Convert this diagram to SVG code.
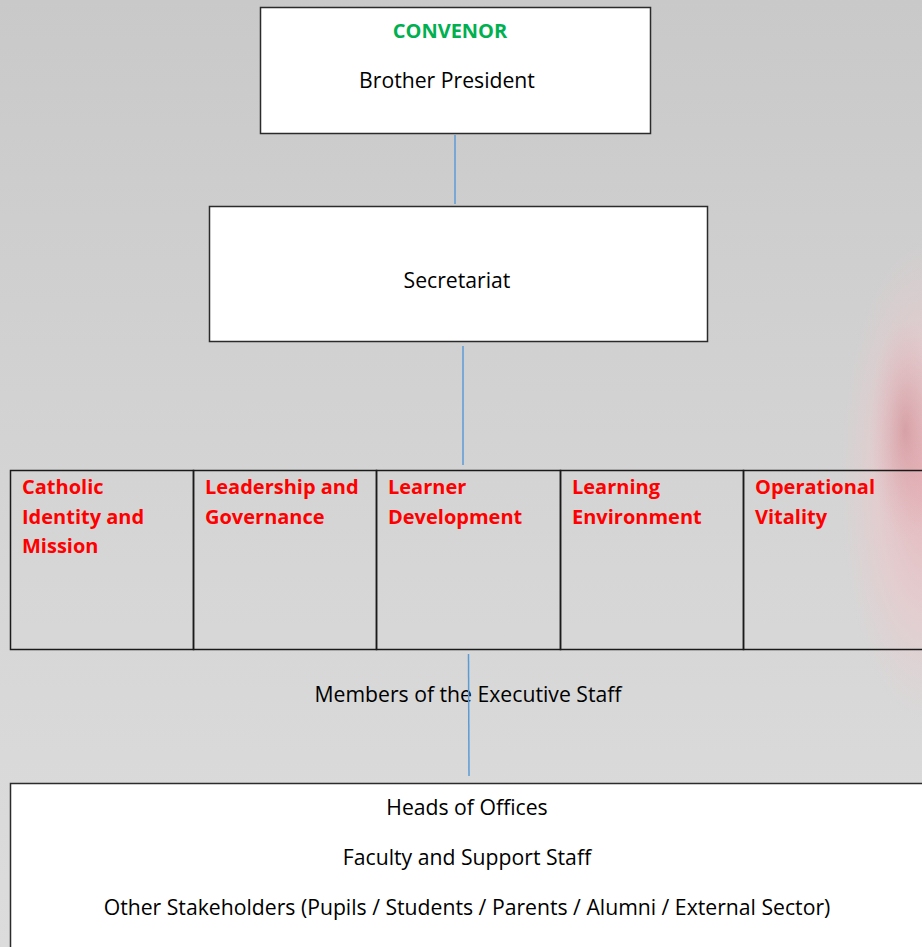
<svg xmlns="http://www.w3.org/2000/svg" width="922" height="947" viewBox="0 0 922 947">
<defs>
<linearGradient id="bg" x1="0" y1="0" x2="0" y2="1">
<stop offset="0" stop-color="#c9c9c9"/>
<stop offset="0.6" stop-color="#d6d6d6"/>
<stop offset="1" stop-color="#dcdcdc"/>
</linearGradient>
<radialGradient id="pink" cx="0.5" cy="0.5" r="0.5">
<stop offset="0" stop-color="#eaa8b0" stop-opacity="0.75"/>
<stop offset="0.55" stop-color="#f0c4c8" stop-opacity="0.5"/>
<stop offset="1" stop-color="#f0c8cc" stop-opacity="0"/>
</radialGradient>
<radialGradient id="pink2" cx="0.5" cy="0.5" r="0.5">
<stop offset="0" stop-color="#c87880" stop-opacity="0.45"/>
<stop offset="1" stop-color="#e0a0a8" stop-opacity="0"/>
</radialGradient>
<style>
.box{fill:#ffffff;stroke:#2b2b2b;stroke-width:1.5}
.cell{fill:none;stroke:#1a1a1a;stroke-width:1.5}
.conn{stroke:#5b9bd5;stroke-width:1.5;fill:none}
.t{font-family:"Open Sans","Liberation Sans",sans-serif;font-size:21.2px;fill:#000000}
.c{text-anchor:middle}
.red{font-family:"Open Sans","Liberation Sans",sans-serif;font-size:20px;font-weight:bold;fill:#ff0000}
.green{font-family:"Open Sans","Liberation Sans",sans-serif;font-size:20px;font-weight:bold;fill:#00b050;text-anchor:middle}
</style>
</defs>
<rect x="0" y="0" width="922" height="947" fill="url(#bg)"/>
<ellipse cx="925" cy="480" rx="85" ry="240" fill="url(#pink)"/>
<ellipse cx="905" cy="430" rx="35" ry="110" fill="url(#pink2)"/>

<g id="convenor">
<rect class="box" x="260.5" y="7.5" width="390" height="126"/>
<text class="green" x="450" y="38">CONVENOR</text>
<text class="t c" x="447" y="88">Brother President</text>
</g>

<g id="secretariat">
<rect class="box" x="209.5" y="206.5" width="498" height="135"/>
<text class="t c" x="457" y="288">Secretariat</text>
</g>

<g id="pillars">
<rect class="cell" x="10.5" y="470.5" width="183" height="179"/>
<rect class="cell" x="193.5" y="470.5" width="183" height="179"/>
<rect class="cell" x="376.5" y="470.5" width="184" height="179"/>
<rect class="cell" x="560.5" y="470.5" width="183" height="179"/>
<rect class="cell" x="743.5" y="470.5" width="190" height="179"/>
<text class="red" x="22" y="494">Catholic</text>
<text class="red" x="22" y="524">Identity and</text>
<text class="red" x="22" y="553">Mission</text>
<text class="red" x="205" y="494">Leadership and</text>
<text class="red" x="205" y="524">Governance</text>
<text class="red" x="388" y="494">Learner</text>
<text class="red" x="388" y="524">Development</text>
<text class="red" x="572" y="494">Learning</text>
<text class="red" x="572" y="524">Environment</text>
<text class="red" x="755" y="494">Operational</text>
<text class="red" x="755" y="524">Vitality</text>
</g>

<g id="executive">
<text class="t c" x="468" y="702">Members of the Executive Staff</text>
</g>

<g id="staff">
<rect class="box" x="10.5" y="783.5" width="930" height="180"/>
<text class="t c" x="467" y="815">Heads of Offices</text>
<text class="t c" x="467" y="865">Faculty and Support Staff</text>
<text class="t c" x="467" y="915">Other Stakeholders (Pupils / Students / Parents / Alumni / External Sector)</text>
</g>

<g id="connectors">
<line class="conn" x1="455" y1="135" x2="455" y2="204"/>
<line class="conn" x1="463" y1="346" x2="463" y2="465"/>
<line class="conn" x1="468.5" y1="654" x2="469" y2="776"/>
</g>
</svg>
